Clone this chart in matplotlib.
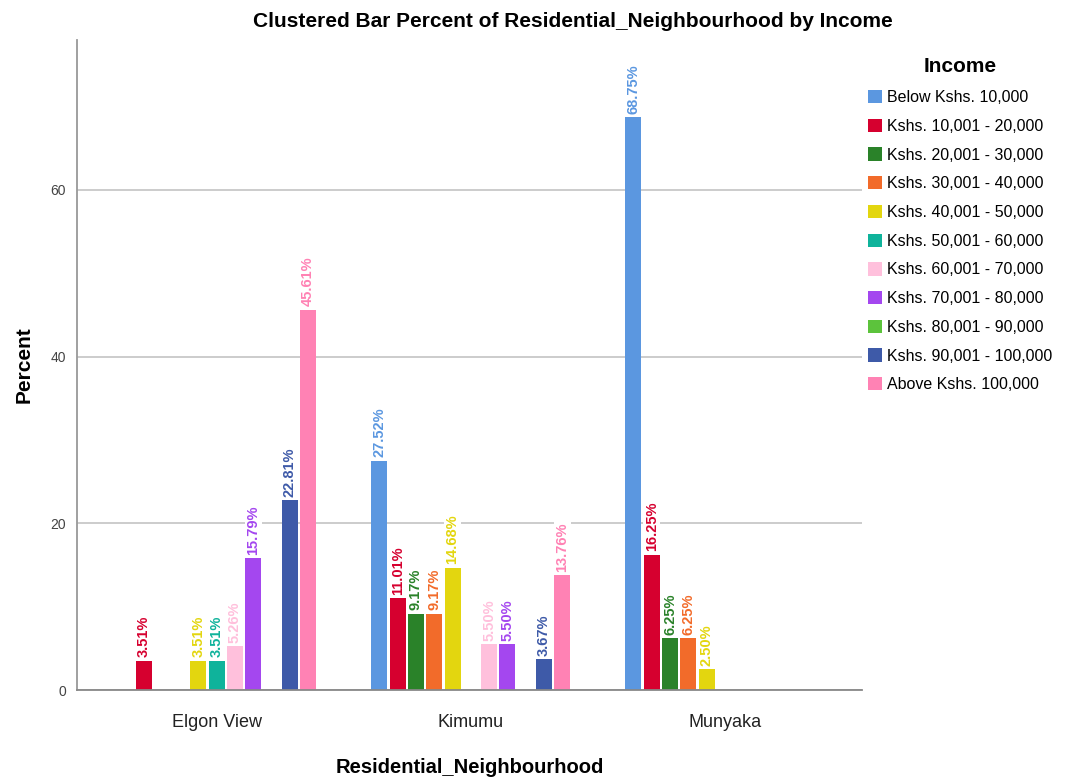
import numpy as np
import matplotlib.pyplot as plt
from matplotlib.patches import Patch

# Data
neighbourhoods = ["Elgon View", "Kimumu", "Munyaka"]
income_groups = ["Below Kshs. 10,000", "Kshs. 10,001 - 20,000", "Kshs. 20,001 - 30,000",
                 "Kshs. 30,001 - 40,000", "Kshs. 40,001 - 50,000", "Kshs. 50,001 - 60,000",
                 "Kshs. 60,001 - 70,000", "Kshs. 70,001 - 80,000", "Kshs. 80,001 - 90,000",
                 "Kshs. 90,001 - 100,000", "Above Kshs. 100,000"]
elgon_view = [0, 3.51, 0, 0, 3.51, 3.51, 5.26, 15.79, 0, 22.81, 45.61]
kimumu = [27.52, 11.01, 9.17, 9.17, 14.68, 0, 5.50, 5.50, 0, 3.67, 13.76]
munyaka = [68.75, 16.25, 6.25, 6.25, 2.50, 0, 0, 0, 0, 0, 0]
colors = ["#5B97E0", "#D6002F", "#2A8229", "#F26B2A", "#E3D60F", "#0FB39B",
          "#FFC0DC", "#A447EF", "#5CC33C", "#3E5AA8", "#FF82B4"]

values = np.array([elgon_view, kimumu, munyaka])

plt.rcParams["font.family"] = ["Liberation Sans", "DejaVu Sans"]

fig = plt.figure(figsize=(10.8, 7.82), dpi=100)
ax = fig.add_axes([0.0713, 0.1176, 0.727, 0.8315])

x = np.arange(len(neighbourhoods))
pitch = 0.072
width = 0.063
n = len(income_groups)

for k in range(n):
    xs = x + (k - (n - 1) / 2) * pitch
    hs = values[:, k]
    ax.bar(xs, hs, width=width, color=colors[k], zorder=2)
    for xi, h in zip(xs, hs):
        if h > 0:
            ax.text(xi, h + 0.4, f"{h:.2f}%", rotation=90, ha="center", va="bottom",
                    fontsize=10.5, fontweight="bold", color=colors[k],
                    bbox=dict(facecolor="white", edgecolor="none", pad=1.0), zorder=3)

ax.set_xlim(-0.55, 2.54)
ax.set_ylim(0, 78)
ax.set_yticks([0, 20, 40, 60])
ax.yaxis.grid(True, color="#c8c8c8", linewidth=1.3, zorder=0)
ax.set_axisbelow(True)
ax.set_xticks(x)
ax.set_xticklabels(neighbourhoods, fontsize=13, color="#222222")
ax.tick_params(axis="both", length=0)
ax.tick_params(axis="y", labelsize=10, labelcolor="#444444", pad=8)
ax.tick_params(axis="x", pad=17)

for s in ["top", "right"]:
    ax.spines[s].set_visible(False)
ax.spines["left"].set_color("#999999")
ax.spines["bottom"].set_color("#888888")
ax.spines["left"].set_linewidth(1.3)
ax.spines["bottom"].set_linewidth(1.3)

ax.set_ylabel("Percent", fontsize=15, fontweight="bold", labelpad=12)
ax.set_xlabel("Residential_Neighbourhood", fontsize=14.5, fontweight="bold", labelpad=20)
fig.text(0.53, 0.972, "Clustered Bar Percent of Residential_Neighbourhood by Income",
         ha="center", va="center", fontsize=15, fontweight="bold")

handles = [Patch(facecolor=c, edgecolor="none") for c in colors]
leg = fig.legend(handles, income_groups, loc="upper left", bbox_to_anchor=(0.79, 0.945),
                 frameon=False, fontsize=11.5, title="Income",
                 title_fontproperties={"size": 15, "weight": "bold"},
                 handlelength=0.9, handleheight=0.9, handletextpad=0.3, labelspacing=0.85)

fig.savefig("out.png", dpi=100)
